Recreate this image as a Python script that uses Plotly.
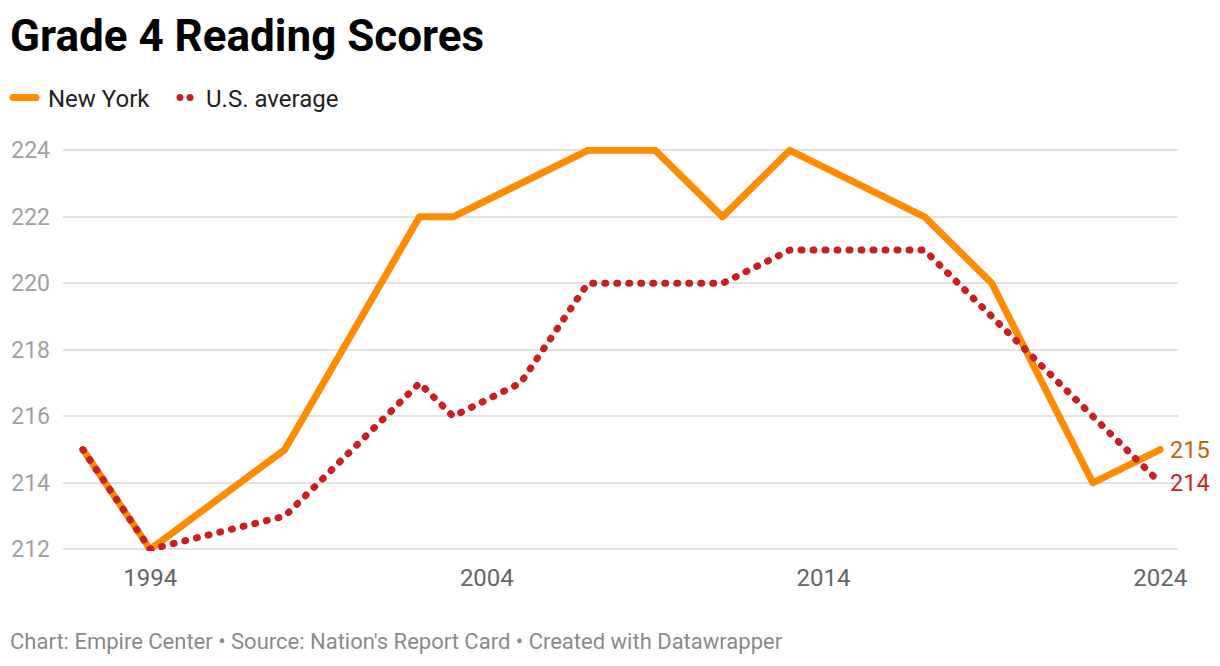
import plotly.graph_objects as go

# ---- data ----
years = [1992, 1994, 1998, 2002, 2003, 2005, 2007, 2009, 2011, 2013, 2015, 2017, 2019, 2022, 2024]
new_york = [215, 212, 215, 222, 222, 223, 224, 224, 222, 224, 223, 222, 220, 214, 215]
us_average = [215, 212, 213, 217, 216, 217, 220, 220, 220, 221, 221, 221, 219, 216, 214]
x_ticks = [1994, 2004, 2014, 2024]
y_ticks = [212, 214, 216, 218, 220, 222, 224]

ORANGE = "#FF8C00"
RED = "#C91F22"
FONT = "Roboto"

W, H = 1220, 666
L, R, T, B = 63, 42, 146.7, 115.3
plot_w = W - L - R
plot_h = H - T - B

fig = go.Figure()
fig.add_trace(go.Scatter(
    x=years, y=new_york, mode="lines", name="New York",
    line=dict(color=ORANGE, width=7), cliponaxis=False, legend="legend",
))
fig.add_trace(go.Scatter(
    x=years, y=us_average, mode="lines", name="U.S. average",
    line=dict(color=RED, width=7, dash="1px,11px"), cliponaxis=False, legend="legend2",
))

fig.add_annotation(x=years[-1], y=new_york[-1], text=str(new_york[-1]), showarrow=False,
                   xanchor="left", yanchor="middle", xshift=8,
                   font=dict(family=FONT, size=23.5, color="#C46400"))
fig.add_annotation(x=years[-1], y=us_average[-1], text=str(us_average[-1]), showarrow=False,
                   xanchor="left", yanchor="middle", xshift=8,
                   font=dict(family=FONT, size=23.5, color=RED))

def px_x(px):
    return (px - L) / plot_w

def px_y(py):
    return (H - B - py) / plot_h

fig.add_annotation(
    xref="paper", yref="paper", x=px_x(8), y=px_y(641), xanchor="left", yanchor="middle",
    text="Chart: Empire Center • Source: Nation's Report Card • Created with Datawrapper",
    showarrow=False, font=dict(family=FONT, size=22, color="#8a8a8a"),
)

legend_common = dict(orientation="h", xref="container", yref="container",
                     y=1 - 98 / H, xanchor="left", yanchor="middle",
                     font=dict(family=FONT, size=24, color="#222222"),
                     itemwidth=30, bgcolor="rgba(0,0,0,0)")

fig.update_layout(
    width=W, height=H,
    margin=dict(l=L, r=R, t=T, b=B),
    paper_bgcolor="white", plot_bgcolor="white",
    title=dict(text="<b>Grade 4 Reading Scores</b>", xref="container", yref="container",
               x=10 / W, y=1 - 36 / H, xanchor="left", yanchor="middle",
               font=dict(family=FONT, size=44, color="#000000")),
    legend=dict(x=8 / W, **legend_common),
    legend2=dict(x=166 / W, **legend_common),
    showlegend=True,
    xaxis=dict(range=[1991.41, 2024.53], tickmode="array", tickvals=x_ticks,
               ticktext=[str(v) for v in x_ticks], showgrid=False, zeroline=False,
               showline=False, ticks="", ticklabelstandoff=10,
               tickfont=dict(family=FONT, size=24, color="#666666")),
    yaxis=dict(range=[211.95, 224.1], tickmode="array", tickvals=y_ticks,
               ticktext=[str(v) for v in y_ticks], showgrid=True, gridcolor="#e3e3e3",
               gridwidth=2, zeroline=False, showline=False, ticks="",
               ticklabelstandoff=12,
               tickfont=dict(family=FONT, size=23, color="#a0a0a0")),
)

post = """
document.body.style.margin='0';
var s=document.createElement('style');
s.innerHTML='body{margin:0 !important;} '
 + '.scatterlayer path.js-line, .legendlines path.js-line{stroke-linecap:round !important;stroke-linejoin:round !important;} '
 + '.legendlines path.js-line[style*="255, 140, 0"]{stroke-dasharray:23px,200px !important;} '
 + '.legendlines path.js-line[style*="201, 31, 34"]{stroke-dasharray:0px,10px,0px,200px !important;stroke-dashoffset:-9px !important;}';
document.head.appendChild(s);
"""
fig.write_html("out.html", post_script=post, config={"displayModeBar": False})
